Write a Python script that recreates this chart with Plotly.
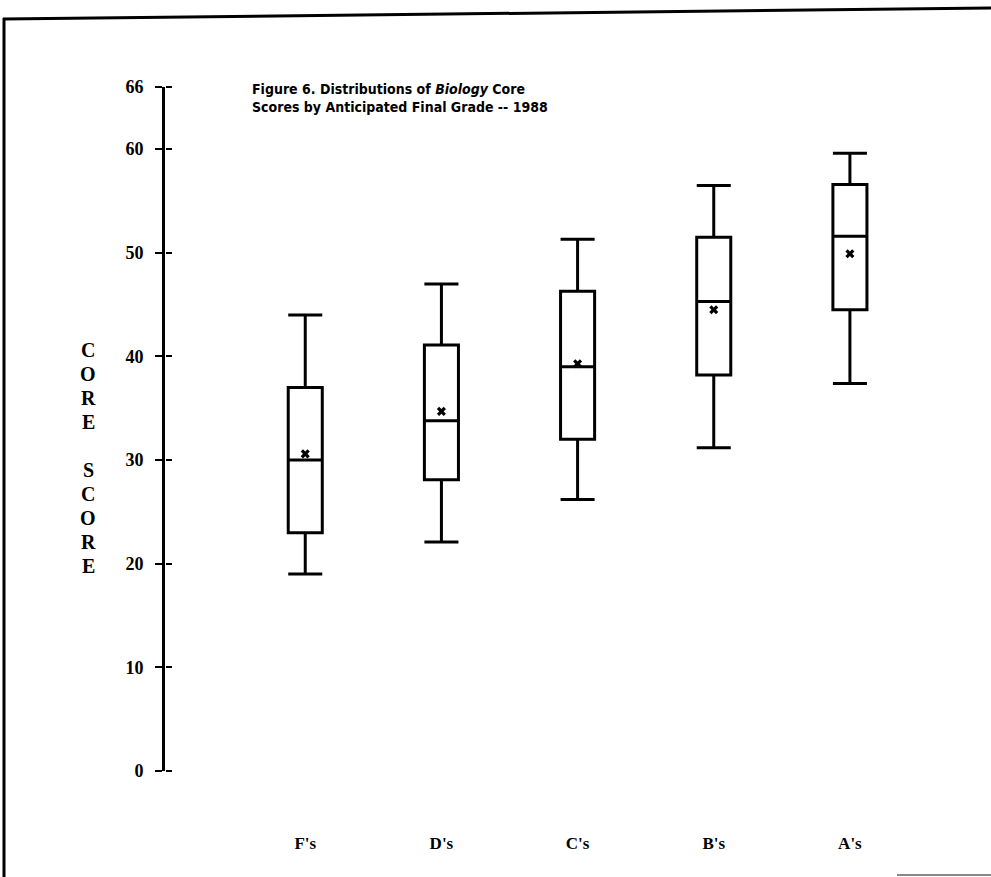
import plotly.graph_objects as go

# Biology core score distributions by anticipated final grade, 1988
grades = ["F's", "D's", "C's", "B's", "A's"]
whisker_low = [19.0, 22.1, 26.2, 31.2, 37.4]
quart_1 = [23.0, 28.1, 32.0, 38.2, 44.5]
medians = [30.0, 33.8, 39.0, 45.3, 51.6]
quart_3 = [37.0, 41.1, 46.3, 51.5, 56.6]
whisker_high = [44.0, 47.0, 51.3, 56.5, 59.6]
means = [30.6, 34.7, 39.3, 44.5, 49.9]

y_ticks = [0, 10, 20, 30, 40, 50, 60, 66]
y_label_letters = ["C", "O", "R", "E", "", "S", "C", "O", "R", "E"]

W, H = 991, 877
L, R, T, B = 165, 9, 87, 106
plot_w, plot_h = W - L - R, H - T - B


def px_x(p):
    return (p - L) / plot_w


def px_y(p):
    return (H - B - p) / plot_h


serif_bold = dict(family="Liberation Serif", size=18, color="black", weight="bold")

fig = go.Figure()

fig.add_trace(go.Box(
    x=grades,
    q1=quart_1,
    median=medians,
    q3=quart_3,
    lowerfence=whisker_low,
    upperfence=whisker_high,
    boxpoints=False,
    width=0.25,
    whiskerwidth=1,
    line=dict(color="black", width=3),
    fillcolor="white",
    hoverinfo="skip",
    showlegend=False,
))

fig.add_trace(go.Scatter(
    x=grades,
    y=means,
    mode="markers",
    marker=dict(symbol="x", size=8, color="black", line=dict(width=0)),
    showlegend=False,
    hoverinfo="skip",
))

# invisible trace so the right-pointing tick axis is drawn
fig.add_trace(go.Scatter(
    x=[grades[0]], y=[0], yaxis="y2", mode="markers",
    marker=dict(opacity=0), showlegend=False, hoverinfo="skip",
))

fig.update_layout(
    width=W, height=H,
    margin=dict(l=L, r=R, t=T, b=B),
    paper_bgcolor="white",
    plot_bgcolor="white",
    xaxis=dict(
        type="category",
        categoryorder="array",
        categoryarray=grades,
        range=[-1.03, 4.97],
        showline=False,
        showgrid=False,
        zeroline=False,
        ticks="",
        tickfont=dict(family="Liberation Serif", size=17, color="black", weight="bold"),
        ticklabelstandoff=60,
    ),
    yaxis=dict(
        range=[0, 66],
        tickvals=y_ticks,
        ticktext=[str(v) for v in y_ticks],
        showline=True,
        linewidth=3,
        linecolor="black",
        showgrid=False,
        zeroline=False,
        ticks="outside",
        ticklen=7,
        tickwidth=2,
        tickcolor="black",
        tickfont=serif_bold,
        ticklabelstandoff=8,
    ),
    yaxis2=dict(
        range=[0, 66],
        overlaying="y",
        side="right",
        anchor="free",
        position=0,
        tickvals=y_ticks,
        showticklabels=False,
        showline=False,
        showgrid=False,
        zeroline=False,
        ticks="outside",
        ticklen=6,
        tickwidth=2,
        tickcolor="black",
    ),
)

# title
fig.add_annotation(
    text="Figure 6. Distributions of <i>Biology</i> Core<br>Scores by Anticipated Final Grade -- 1988",
    xref="paper", yref="paper",
    x=px_x(250), y=px_y(79),
    xanchor="left", yanchor="top",
    align="left",
    showarrow=False,
    font=dict(family="DejaVu Sans Condensed", size=14,
              color="black", weight="bold"),
)

# stacked vertical axis label
for i, ch in enumerate(y_label_letters):
    if not ch:
        continue
    fig.add_annotation(
        text=ch, xref="paper", yref="paper",
        x=px_x(88), y=px_y(350 + 24 * i),
        xanchor="center", yanchor="middle",
        showarrow=False,
        font=dict(family="Liberation Serif", size=20, color="black", weight="bold"),
    )

# page frame
fig.add_shape(type="line", xref="paper", yref="paper",
              x0=px_x(3), y0=px_y(19), x1=px_x(991), y1=px_y(8),
              line=dict(color="black", width=3))
fig.add_shape(type="line", xref="paper", yref="paper",
              x0=px_x(4), y0=px_y(18), x1=px_x(4), y1=px_y(877),
              line=dict(color="black", width=3))
fig.add_shape(type="line", xref="paper", yref="paper",
              x0=px_x(897), y0=px_y(875), x1=px_x(991), y1=px_y(875),
              line=dict(color="#888888", width=2))

fig.write_html("out.html")
